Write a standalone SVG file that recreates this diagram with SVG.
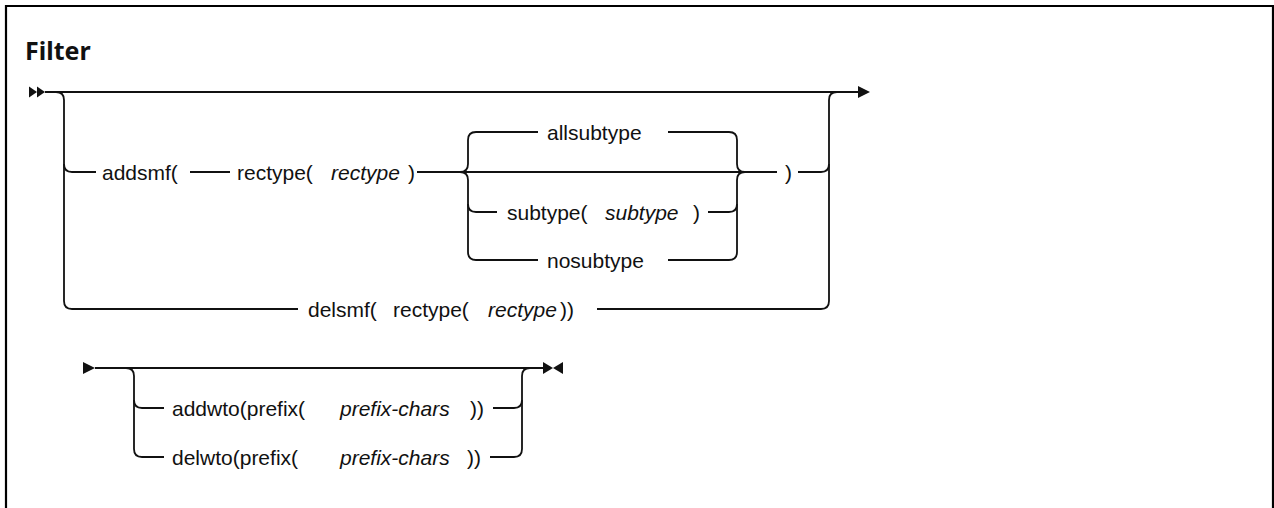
<svg xmlns="http://www.w3.org/2000/svg" width="1274" height="508" viewBox="0 0 1274 508">
<style>
.ln{fill:none;stroke:#111111;stroke-width:1.8}
.t{font-family:"Liberation Sans",Arial,sans-serif;font-size:21px;fill:#111111}
.v{font-style:italic}
.mk{fill:#111111}
.title{font-family:"Noto Sans","Open Sans",sans-serif;font-weight:700;font-size:25px;fill:#111111}
</style>
<rect width="1274" height="508" fill="#ffffff"/>
<path d="M6,508 V6 H1273 V508" fill="none" stroke="#000" stroke-width="2.2"/>
<text id="title" class="title" x="25" y="60">Filter</text>
<g id="connectors">
<path class="ln" d="M45,92 H858"/>
<path class="ln" d="M56,92 Q64,92 64,100 V301 Q64,309 72,309 H298"/>
<path class="ln" d="M64,164 Q64,172 72,172 H96"/>
<path class="ln" d="M190,172 H230"/>
<path class="ln" d="M417,172 H777"/>
<path class="ln" d="M460,172 Q468,172 468,164 V140 Q468,132 476,132 H538"/>
<path class="ln" d="M460,172 Q468,172 468,180 V252 Q468,260 476,260 H538"/>
<path class="ln" d="M468,204 Q468,212 476,212 H497"/>
<path class="ln" d="M668,132 H729 Q737,132 737,140 V164 Q737,172 745,172"/>
<path class="ln" d="M668,260 H729 Q737,260 737,252 V180 Q737,172 745,172"/>
<path class="ln" d="M708,212 H729 Q737,212 737,204"/>
<path class="ln" d="M798,172 H821 Q829,172 829,164"/>
<path class="ln" d="M597,309 H821 Q829,309 829,301 V100 Q829,92 837,92"/>
<path class="ln" d="M95,368 H543"/>
<path class="ln" d="M126,368 Q134,368 134,376 V449 Q134,457 142,457 H164"/>
<path class="ln" d="M134,400 Q134,408 142,408 H164"/>
<path class="ln" d="M493,408 H514 Q522,408 522,400"/>
<path class="ln" d="M490,457 H514 Q522,457 522,449 V376 Q522,368 530,368"/>
<polygon class="mk" points="29,86.5 37,92 29,97.5"/>
<polygon class="mk" points="37,86.5 45,92 37,97.5"/>
<polygon class="mk" points="858,86 870,92 858,98"/>
<polygon class="mk" points="83,362 95,368 83,374"/>
<polygon class="mk" points="543,362 553,368 543,374"/>
<polygon class="mk" points="563,362 553,368 563,374"/>
</g>
<g id="addsmf"><text class="t" x="102" y="179.5">addsmf(</text></g>
<g id="rectype1"><text class="t" x="237" y="179.5">rectype(</text><text class="t v" x="331" y="179.5">rectype</text><text class="t" x="408" y="179.5">)</text></g>
<g id="allsubtype"><text class="t" x="547" y="139.5">allsubtype</text></g>
<g id="subtype"><text class="t" x="507" y="219.5">subtype(</text><text class="t v" x="605" y="219.5">subtype</text><text class="t" x="693" y="219.5">)</text></g>
<g id="nosubtype"><text class="t" x="547" y="267.5">nosubtype</text></g>
<g id="close1"><text class="t" x="785" y="179.5">)</text></g>
<g id="delsmf"><text class="t" x="308" y="316.5">delsmf(</text><text class="t" x="393" y="316.5">rectype(</text><text class="t v" x="488" y="316.5">rectype</text><text class="t" x="560" y="316.5">))</text></g>
<g id="addwto"><text class="t" x="172" y="415.5">addwto(prefix(</text><text class="t v" x="340" y="415.5">prefix-chars</text><text class="t" x="470" y="415.5">))</text></g>
<g id="delwto"><text class="t" x="172" y="464.5">delwto(prefix(</text><text class="t v" x="340" y="464.5">prefix-chars</text><text class="t" x="467" y="464.5">))</text></g>
</svg>
